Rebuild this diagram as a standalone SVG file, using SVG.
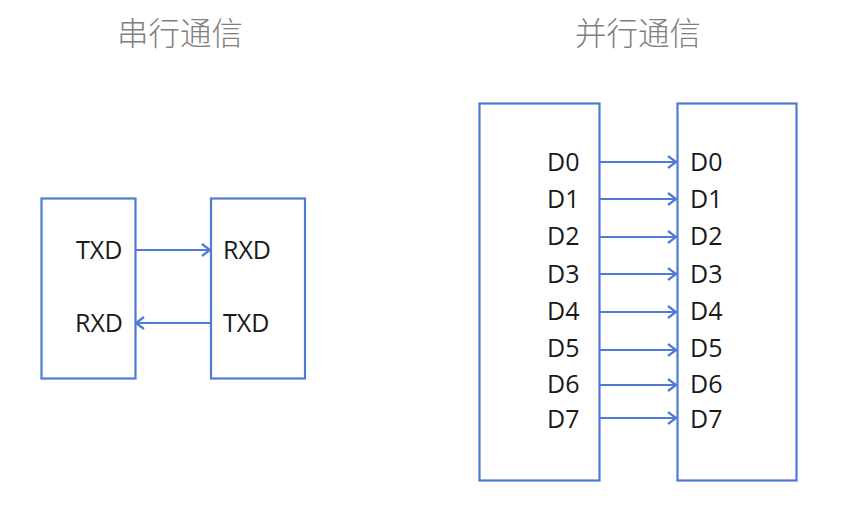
<svg xmlns="http://www.w3.org/2000/svg" width="841" height="506" viewBox="0 0 841 506">
<style>
.box{fill:#fff;stroke:#4f7bd6;stroke-width:2.2}
.ln{stroke:#4f7bd6;stroke-width:2.2;fill:none;marker-end:url(#arr)}
.t{font-family:"Open Sans","Noto Sans",sans-serif;font-size:25px;fill:#1a1a1a}
.title{font-family:"Noto Sans CJK SC",sans-serif;font-size:31.5px;font-weight:300;fill:#7f7f7f;text-anchor:middle}
</style>
<defs>
<marker id="arr" markerWidth="14" markerHeight="14" refX="12" refY="7" orient="auto" markerUnits="userSpaceOnUse">
<path d="M4,1 L12,7 L4,13" fill="none" stroke="#4f7bd6" stroke-width="2.2"/>
</marker>
</defs>
<text class="title" x="180" y="45">串行通信</text>
<text class="title" x="638" y="45">并行通信</text>
<g id="serialA"><rect class="box" x="41.5" y="198.5" width="94" height="180"/>
<text class="t" x="76" y="259">TXD</text><text class="t" x="75" y="332">RXD</text></g>
<g id="serialB"><rect class="box" x="211" y="198.5" width="94" height="180"/>
<text class="t" x="223" y="259">RXD</text><text class="t" x="223" y="332">TXD</text></g>
<g id="parA"><rect class="box" x="479.5" y="103.5" width="120" height="377"/>
<text class="t" x="547" y="171">D0</text><text class="t" x="547" y="208">D1</text><text class="t" x="547" y="245">D2</text><text class="t" x="547" y="283">D3</text>
<text class="t" x="547" y="320">D4</text><text class="t" x="547" y="357">D5</text><text class="t" x="547" y="393">D6</text><text class="t" x="547" y="428">D7</text></g>
<g id="parB"><rect class="box" x="677.5" y="103.5" width="119" height="377"/>
<text class="t" x="690" y="171">D0</text><text class="t" x="690" y="208">D1</text><text class="t" x="690" y="245">D2</text><text class="t" x="690" y="283">D3</text>
<text class="t" x="690" y="320">D4</text><text class="t" x="690" y="357">D5</text><text class="t" x="690" y="393">D6</text><text class="t" x="690" y="428">D7</text></g>
<g id="connectors">
<line class="ln" x1="136" y1="250" x2="210" y2="250"/>
<line class="ln" x1="210" y1="323" x2="136" y2="323"/>
<line class="ln" x1="600" y1="162" x2="676" y2="162"/>
<line class="ln" x1="600" y1="199" x2="676" y2="199"/>
<line class="ln" x1="600" y1="237" x2="676" y2="237"/>
<line class="ln" x1="600" y1="274" x2="676" y2="274"/>
<line class="ln" x1="600" y1="312" x2="676" y2="312"/>
<line class="ln" x1="600" y1="350" x2="676" y2="350"/>
<line class="ln" x1="600" y1="385" x2="676" y2="385"/>
<line class="ln" x1="600" y1="418" x2="676" y2="418"/>
</g>
</svg>
